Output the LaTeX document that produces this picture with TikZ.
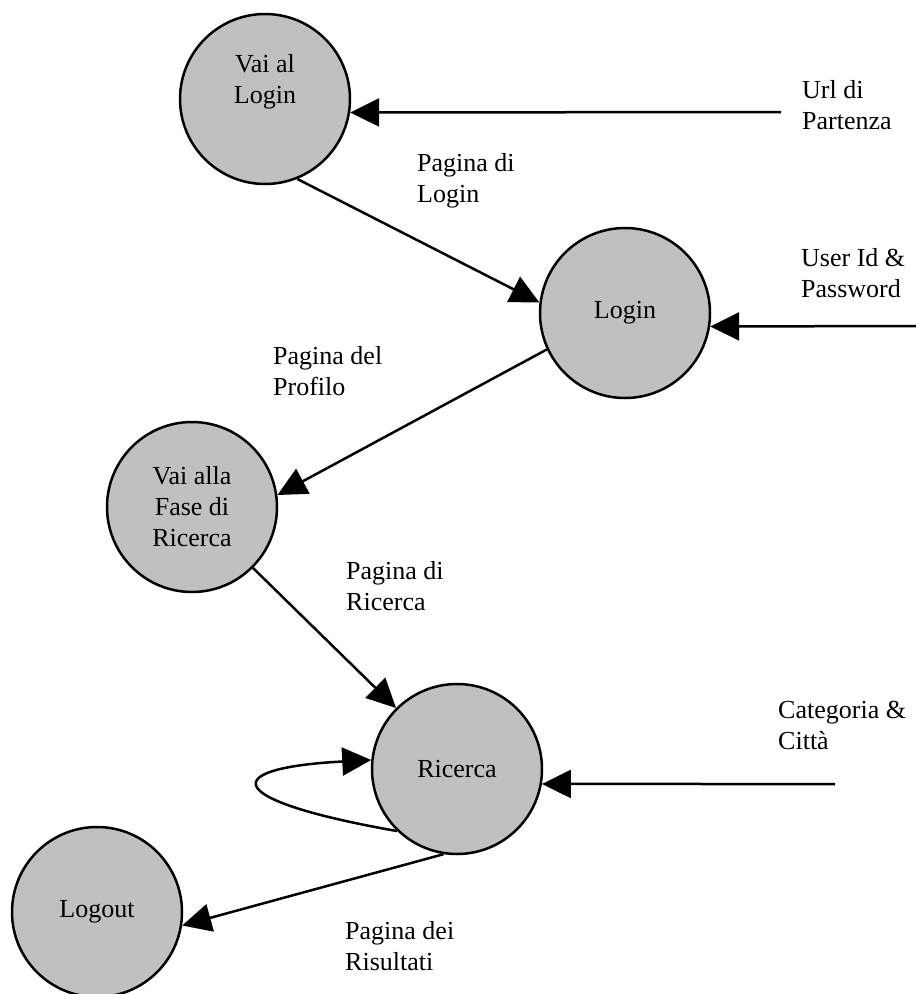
\documentclass[tikz,border=0pt]{standalone}
\usepackage{fontspec}
\setmainfont{Liberation Serif}
\usetikzlibrary{arrows.meta}
\definecolor{procgray}{RGB}{192,192,192}

\begin{document}
\begin{tikzpicture}[x=1pt, y=-1pt,
        proc/.style={circle, draw, line width=2.5pt, fill=procgray, minimum size=170pt, inner sep=0pt, align=center, font=\fontsize{26}{31}\selectfont},
        flow/.style={line width=2.5pt, -{Triangle[length=29pt,width=28pt]}},
        lbl/.style={anchor=north west, inner sep=0pt, align=left, font=\fontsize{26}{31}\selectfont}]
        % Fix the page size
        \useasboundingbox (0,0) rectangle (916,994);

        % Draw the processes
        \node[proc] (vail) at (265,99) {};
        \node[lbl, anchor=north, align=center] (vailtxt) at (265,54) {Vai al\\Login};
        \node[proc] (login) at (625,313) {Login};
        \node[proc] (fase) at (192,507) {Vai alla\\Fase di\\Ricerca};
        \node[proc] (ric) at (457,769) {Ricerca};
        \node[proc] (logout) at (97,912) {Logout};

        % Free ends of the inputs
        \coordinate (urlsrc) at (781,112);
        \coordinate (usrsrc) at (916,326);
        \coordinate (catsrc) at (835,784);

        % Draw the flows
        \draw[flow] (urlsrc) -- (vail.-9);
        \draw[flow] (vail.-68) -- (login.173);
        \draw[flow] (usrsrc) -- (login.-9);
        \draw[flow] (login.205) -- (fase.8);
        \draw[flow] (fase.-45) -- (ric.135);
        \draw[flow] (catsrc) -- (ric.-10);
        \draw[flow] (ric.226) .. controls (220,800) and (218,768) .. (ric.174);
        \draw[flow] (ric.-99) -- (logout.-9);

        % Label the flows
        \node[lbl] (urllbl) at (802,80) {Url di\\Partenza};
        \node[lbl] (loginlbl) at (417,153) {Pagina di\\Login};
        \node[lbl] (usrlbl) at (801,248) {User Id \&\\Password};
        \node[lbl] (proflbl) at (273,346) {Pagina del\\Profilo};
        \node[lbl] (riclbl) at (346,561) {Pagina di\\Ricerca};
        \node[lbl] (catlbl) at (778,701) {Categoria \&\\Città};
        \node[lbl] (reslbl) at (345,921) {Pagina dei\\Risultati};
    \end{tikzpicture}
\end{document}
